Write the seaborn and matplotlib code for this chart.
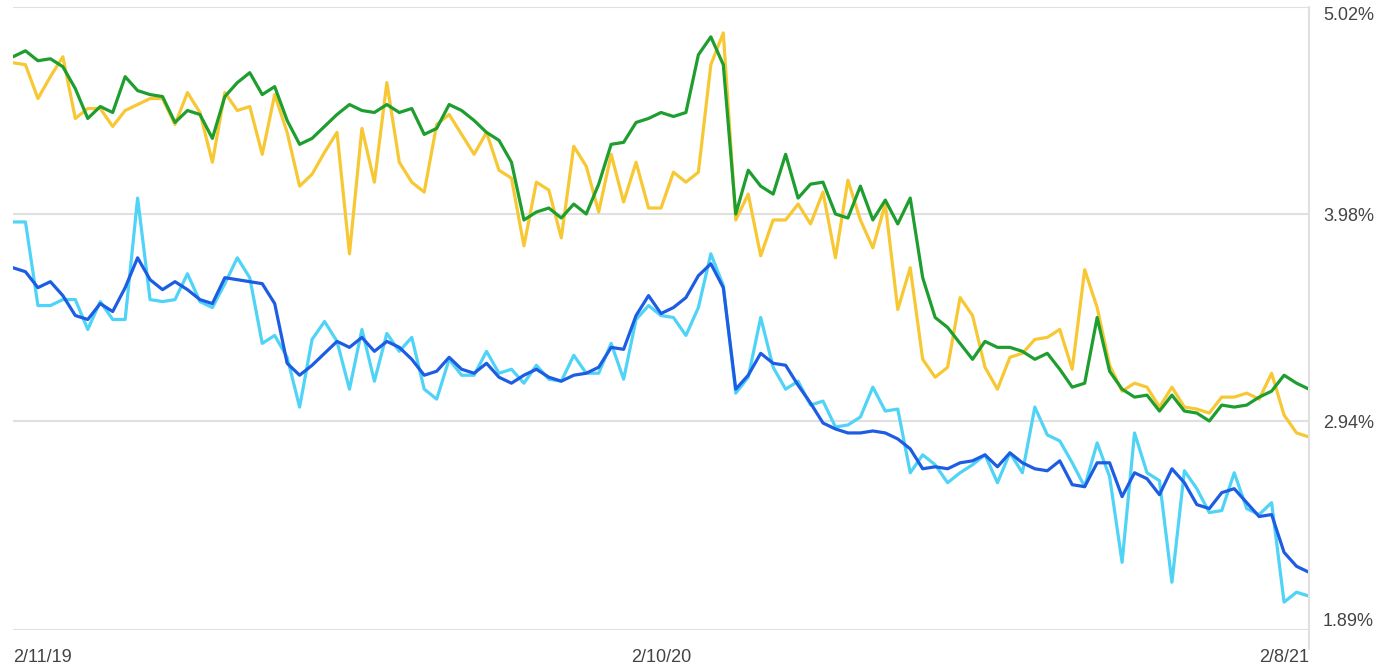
import matplotlib.pyplot as plt
import pandas as pd
import seaborn as sns

# Weekly dates, 2/11/19 .. 2/8/21
dates = pd.date_range("2019-02-11", periods=105, freq="7D")

green = [
    4.77, 4.80, 4.75, 4.76, 4.72, 4.61, 4.46, 4.52, 4.49, 4.67,
    4.60, 4.58, 4.57, 4.44, 4.50, 4.48, 4.36, 4.57, 4.64, 4.69,
    4.58, 4.62, 4.45, 4.33, 4.36, 4.42, 4.48, 4.53, 4.50, 4.49,
    4.53, 4.49, 4.51, 4.38, 4.41, 4.53, 4.50, 4.45, 4.39, 4.35,
    4.24, 3.95, 3.99, 4.01, 3.96, 4.03, 3.98, 4.13, 4.33, 4.34,
    4.44, 4.46, 4.49, 4.47, 4.49, 4.78, 4.87, 4.73, 3.98, 4.20,
    4.12, 4.08, 4.28, 4.06, 4.13, 4.14, 3.98, 3.96, 4.12, 3.95,
    4.05, 3.93, 4.06, 3.66, 3.46, 3.41, 3.33, 3.25, 3.34, 3.31,
    3.31, 3.29, 3.25, 3.28, 3.20, 3.11, 3.13, 3.46, 3.19, 3.10,
    3.06, 3.07, 2.99, 3.07, 2.99, 2.98, 2.94, 3.02, 3.01, 3.02,
    3.06, 3.09, 3.17, 3.13, 3.10,
]

yellow = [
    4.74, 4.73, 4.56, 4.67, 4.77, 4.46, 4.51, 4.51, 4.42, 4.50,
    4.53, 4.56, 4.56, 4.43, 4.59, 4.49, 4.24, 4.59, 4.50, 4.52,
    4.28, 4.58, 4.39, 4.12, 4.18, 4.29, 4.39, 3.78, 4.41, 4.14,
    4.64, 4.24, 4.14, 4.09, 4.43, 4.48, 4.38, 4.28, 4.39, 4.20,
    4.16, 3.82, 4.14, 4.10, 3.86, 4.32, 4.22, 3.99, 4.28, 4.04,
    4.24, 4.01, 4.01, 4.19, 4.14, 4.19, 4.73, 4.89, 3.95, 4.08,
    3.77, 3.95, 3.95, 4.03, 3.93, 4.09, 3.76, 4.15, 3.95, 3.81,
    4.03, 3.50, 3.71, 3.25, 3.16, 3.21, 3.56, 3.47, 3.21, 3.10,
    3.26, 3.28, 3.35, 3.36, 3.40, 3.20, 3.70, 3.51, 3.22, 3.09,
    3.13, 3.11, 3.01, 3.11, 3.01, 3.00, 2.98, 3.06, 3.06, 3.08,
    3.05, 3.18, 2.97, 2.88, 2.86,
]

dark_blue = [
    3.71, 3.69, 3.61, 3.64, 3.57, 3.47, 3.45, 3.53, 3.49, 3.61,
    3.76, 3.65, 3.60, 3.64, 3.60, 3.55, 3.53, 3.66, 3.65, 3.64,
    3.63, 3.53, 3.23, 3.17, 3.22, 3.28, 3.34, 3.31, 3.36, 3.29,
    3.34, 3.31, 3.25, 3.17, 3.19, 3.26, 3.20, 3.18, 3.23, 3.16,
    3.13, 3.17, 3.20, 3.16, 3.14, 3.17, 3.18, 3.21, 3.31, 3.30,
    3.47, 3.57, 3.48, 3.51, 3.56, 3.67, 3.73, 3.61, 3.10, 3.17,
    3.28, 3.23, 3.22, 3.12, 3.03, 2.93, 2.90, 2.88, 2.88, 2.89,
    2.88, 2.85, 2.80, 2.70, 2.71, 2.70, 2.73, 2.74, 2.77, 2.71,
    2.78, 2.73, 2.70, 2.69, 2.74, 2.62, 2.61, 2.73, 2.73, 2.56,
    2.68, 2.65, 2.57, 2.70, 2.63, 2.52, 2.50, 2.58, 2.60, 2.53,
    2.46, 2.47, 2.28, 2.21, 2.18,
]

light_blue = [
    3.94, 3.94, 3.52, 3.52, 3.55, 3.55, 3.40, 3.54, 3.45, 3.45,
    4.06, 3.55, 3.54, 3.55, 3.68, 3.54, 3.51, 3.63, 3.76, 3.66,
    3.33, 3.37, 3.26, 3.01, 3.35, 3.44, 3.34, 3.10, 3.40, 3.14,
    3.38, 3.29, 3.36, 3.10, 3.05, 3.25, 3.17, 3.17, 3.29, 3.18,
    3.20, 3.13, 3.22, 3.15, 3.14, 3.27, 3.18, 3.18, 3.33, 3.15,
    3.45, 3.52, 3.47, 3.46, 3.37, 3.51, 3.78, 3.62, 3.08, 3.16,
    3.46, 3.21, 3.10, 3.14, 3.02, 3.04, 2.91, 2.92, 2.96, 3.11,
    2.99, 3.00, 2.68, 2.77, 2.72, 2.63, 2.68, 2.72, 2.77, 2.63,
    2.78, 2.68, 3.01, 2.87, 2.84, 2.73, 2.61, 2.83, 2.66, 2.23,
    2.88, 2.68, 2.64, 2.13, 2.69, 2.60, 2.48, 2.49, 2.68, 2.50,
    2.47, 2.53, 2.03, 2.08, 2.06,
]

y_ticks = [1.89, 2.94, 3.98, 5.02]
y_labels = ["1.89%", "2.94%", "3.98%", "5.02%"]
x_ticks = pd.to_datetime(["2019-02-11", "2020-02-10", "2021-02-08"])
x_labels = ["2/11/19", "2/10/20", "2/8/21"]

df = pd.DataFrame({
    "date": dates,
    "yellow": yellow,
    "green": green,
    "light_blue": light_blue,
    "dark_blue": dark_blue,
}).melt(id_vars="date", var_name="series", value_name="rate")

palette = {
    "yellow": "#f7c833",
    "green": "#1e9e2e",
    "light_blue": "#4fd3f6",
    "dark_blue": "#1c5de3",
}

sns.set_style("white")
plt.rcParams["font.family"] = ["Liberation Sans", "DejaVu Sans"]

fig = plt.figure(figsize=(13.81, 6.72), dpi=100)
ax = fig.add_axes([13 / 1381, 1 - 630 / 672, 1296 / 1381, 623 / 672])

sns.lineplot(
    data=df,
    x="date",
    y="rate",
    hue="series",
    hue_order=["yellow", "green", "light_blue", "dark_blue"],
    palette=palette,
    linewidth=2.3,
    legend=False,
    ax=ax,
)

ax.set_xlim(dates[0], dates[-1])
ax.set_ylim(y_ticks[0], y_ticks[-1])
ax.set_xlabel("")
ax.set_ylabel("")

# gridlines and frame
ax.set_yticks(y_ticks)
ax.set_yticklabels(y_labels)
ax.yaxis.tick_right()
ax.grid(axis="y", color="#e0e0e0", linewidth=1.5)
ax.grid(axis="x", visible=False)
for side in ["top", "left", "bottom", "right"]:
    ax.spines[side].set_visible(False)
ax.axvline(dates[-1], ymin=-0.03, ymax=1, color="#e0e0e0", linewidth=1.5, clip_on=False)

ax.tick_params(axis="y", length=0, pad=10, labelsize=13, labelcolor="#444444")
labels = ax.get_yticklabels()
labels[0].set_va("bottom")
labels[-1].set_va("top")

ax.set_xticks(x_ticks)
ax.set_xticklabels(x_labels)
ax.tick_params(axis="x", length=6, width=1, color="#d5d5d5", pad=8,
               labelsize=13, labelcolor="#444444")
xl = ax.get_xticklabels()
xl[0].set_ha("left")
xl[-1].set_ha("right")

fig.savefig("out.png", dpi=100, facecolor="white")
plt.close()
